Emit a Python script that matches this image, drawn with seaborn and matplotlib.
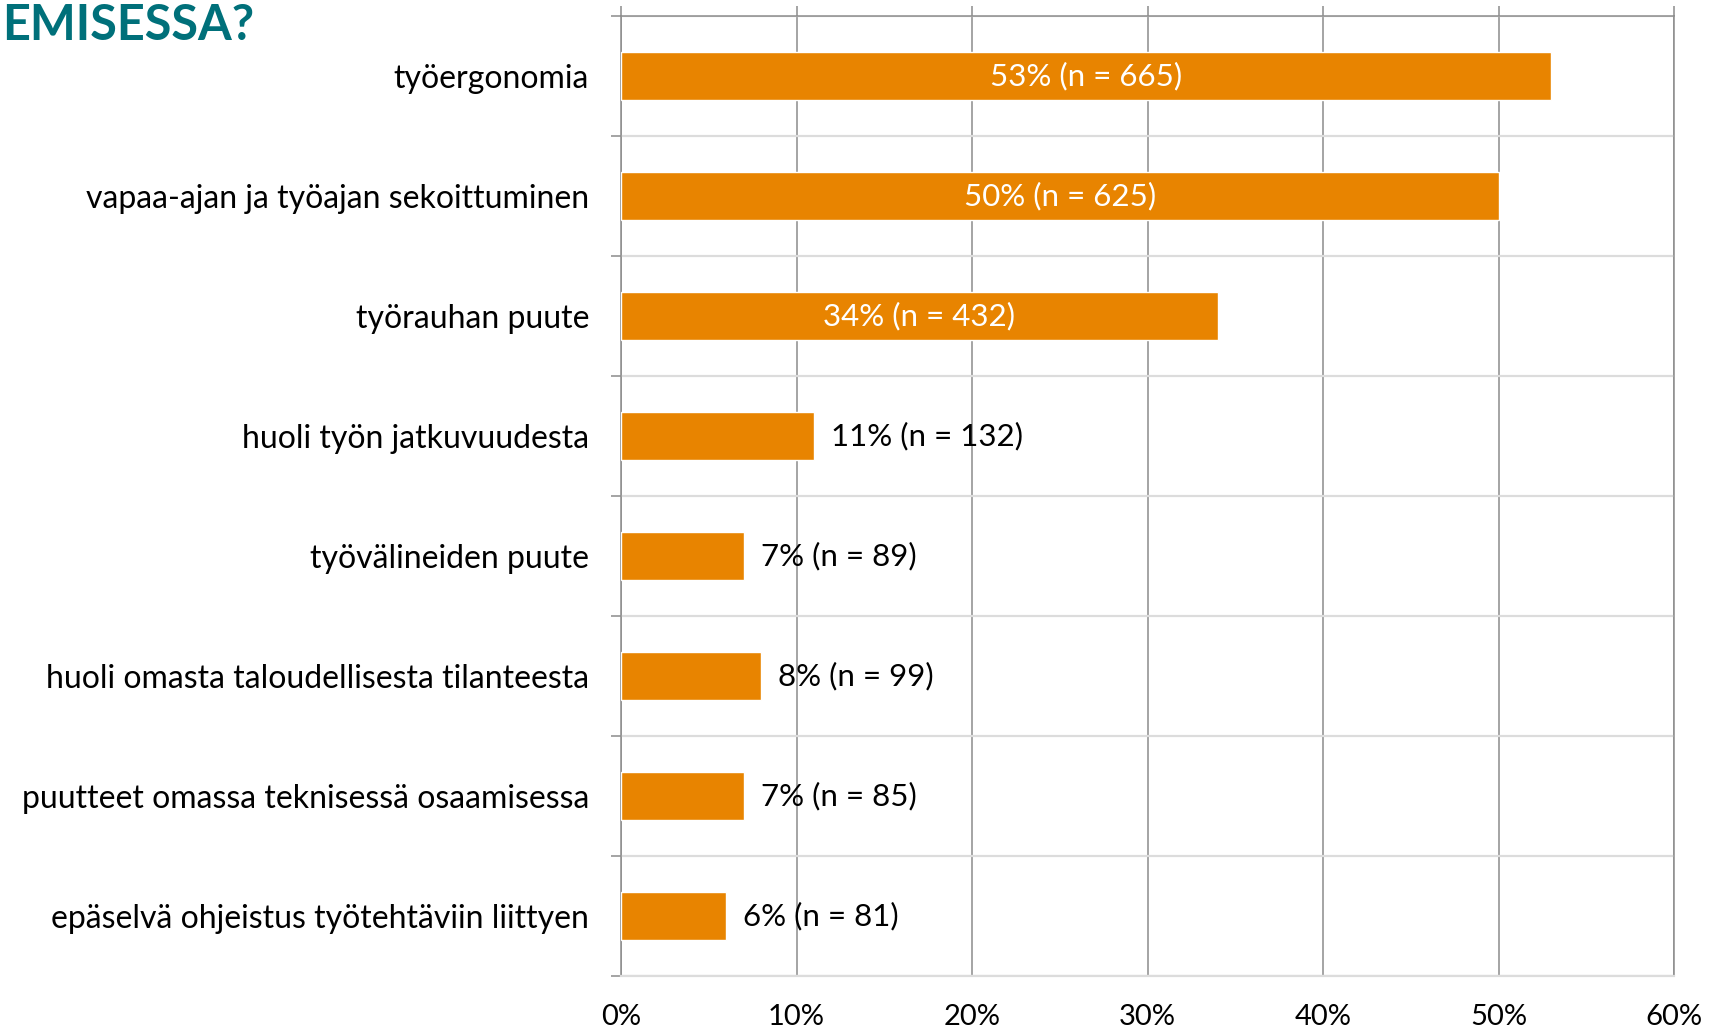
import matplotlib
matplotlib.use("Agg")
import matplotlib.pyplot as plt
import seaborn as sns
import pandas as pd
import numpy as np

categories = [
    "työergonomia",
    "vapaa-ajan ja työajan sekoittuminen",
    "työrauhan puute",
    "huoli työn jatkuvuudesta",
    "työvälineiden puute",
    "huoli omasta taloudellisesta tilanteesta",
    "puutteet omassa teknisessä osaamisessa",
    "epäselvä ohjeistus työtehtäviin liittyen",
]
percent = [53, 50, 34, 11, 7, 8, 7, 6]
counts = [665, 625, 432, 132, 89, 99, 85, 81]
xticks = [0, 10, 20, 30, 40, 50, 60]
title_text = "EMISESSA?"

sns.set_theme(style="white")
plt.rcParams["font.family"] = ["Lato", "DejaVu Sans"]

W, H = 1717, 1029
fig = plt.figure(figsize=(W / 100, H / 100), dpi=100)
ax = fig.add_axes([621 / W, 1 - 976 / H, (1674 - 621) / W, (976 - 16) / H])

df = pd.DataFrame({"cat": categories, "pct": percent, "n": counts})
sns.barplot(data=df, y="cat", x="pct", orient="h", color="#E88400",
            saturation=1, width=0.4, ax=ax, zorder=3)

ax.set_xlim(0, 60)
ax.set_ylim(len(categories) - 0.5, -0.5)
ax.set_xlabel("")
ax.set_ylabel("")

grid_dark = "#8c8c8c"
grid_light = "#dcdcdc"

# x axis
ax.set_xticks(xticks)
ax.set_xticklabels([f"{t}%" for t in xticks], fontsize=21, color="black")
ax.tick_params(axis="x", which="major", bottom=False, top=True, labelbottom=True,
               labeltop=False, length=7.2, width=1.1, color=grid_dark, pad=13)
ax.xaxis.grid(True, color=grid_dark, linewidth=1.1, zorder=0)

# y axis
ax.set_yticks(range(len(categories)))
ax.set_yticklabels(categories, fontsize=23, color="black")
ax.set_yticks(np.arange(-0.5, len(categories), 1.0), minor=True)
ax.tick_params(axis="y", which="major", left=False, length=0, pad=23)
ax.tick_params(axis="y", which="minor", left=True, length=7.2, width=1.1,
               color=grid_dark)
ax.yaxis.grid(True, which="minor", color=grid_light, linewidth=1.6, zorder=0)
ax.yaxis.grid(False, which="major")

for side in ["top", "left", "right"]:
    ax.spines[side].set_visible(True)
    ax.spines[side].set_color(grid_dark)
    ax.spines[side].set_linewidth(1.1)
ax.spines["bottom"].set_color(grid_light)
ax.spines["bottom"].set_linewidth(1.6)

# value labels
for i, (p, n) in enumerate(zip(percent, counts)):
    label = f"{p}% (n = {n})"
    if p > 20:
        ax.text(p / 2, i, label, ha="center", va="center", color="white",
                fontsize=22.5, zorder=4)
    else:
        ax.annotate(label, (p, i), xytext=(17, 0), textcoords="offset pixels",
                    ha="left", va="center", color="black", fontsize=22.5, zorder=4)

fig.text(2 / W, 1 - 40 / H, title_text, ha="left", va="baseline",
         fontsize=35, fontweight="bold", color="#00707A")

fig.savefig("out.png", dpi=100, facecolor="white")
